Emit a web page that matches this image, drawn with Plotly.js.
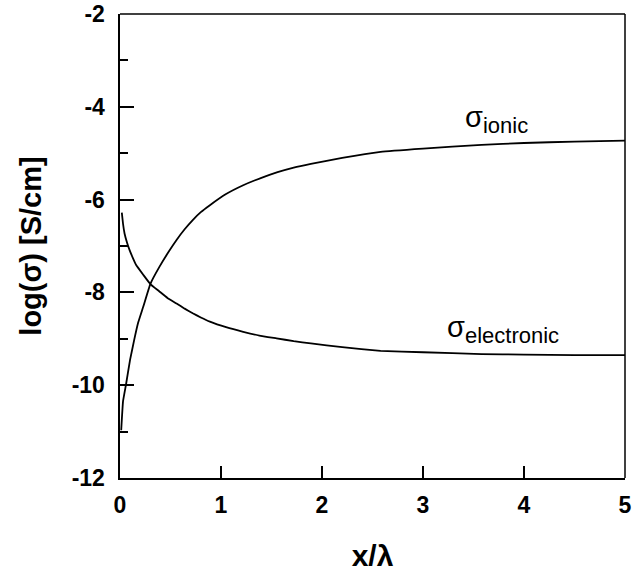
<!DOCTYPE html>
<html>
<head>
<meta charset="utf-8">
<script src="https://cdn.plot.ly/plotly-3.0.1.min.js"></script>
<style>html,body{margin:0;padding:0;background:#fff;}#chart{width:632px;height:575px;}</style>
</head>
<body>
<div id="chart"></div>
<script>
// x / lambda positions and log(sigma) values
const ionicX = [0.012, 0.03, 0.06, 0.10, 0.14, 0.18, 0.23, 0.30, 0.39, 0.48, 0.56, 0.64, 0.72, 0.80, 0.89, 1.05, 1.22, 1.40, 1.56, 1.72, 1.89, 2.20, 2.58, 3.00, 3.58, 4.00, 4.50, 5.00];
const ionicY = [-10.97, -10.35, -9.98, -9.45, -9.03, -8.65, -8.31, -7.82, -7.45, -7.13, -6.87, -6.64, -6.44, -6.27, -6.12, -5.88, -5.69, -5.53, -5.41, -5.31, -5.23, -5.10, -4.97, -4.90, -4.82, -4.78, -4.75, -4.73];
const elecX = [0.018, 0.03, 0.045, 0.07, 0.095, 0.13, 0.16, 0.23, 0.30, 0.39, 0.47, 0.56, 0.64, 0.72, 0.80, 0.89, 1.05, 1.22, 1.38, 1.55, 1.72, 1.89, 2.20, 2.58, 3.00, 3.58, 4.00, 4.50, 5.00];
const elecY = [-6.28, -6.52, -6.73, -6.93, -7.09, -7.27, -7.41, -7.62, -7.82, -7.98, -8.12, -8.24, -8.35, -8.45, -8.54, -8.63, -8.75, -8.85, -8.93, -8.99, -9.05, -9.10, -9.18, -9.26, -9.29, -9.33, -9.34, -9.35, -9.35];
const xTicks = [0, 1, 2, 3, 4, 5];
const yTicks = [-12, -10, -8, -6, -4, -2];
const labelIonic = "σ<sub><span style='font-size:22px'>ionic</span></sub>";
const labelElec = "σ<sub><span style='font-size:22px'>electronic</span></sub>";

const lineStyle = {color: '#000', width: 1.8, shape: 'spline', smoothing: 0.3};
const traces = [
  {x: ionicX, y: ionicY, mode: 'lines', line: lineStyle, hoverinfo: 'skip', showlegend: false},
  {x: elecX, y: elecY, xaxis: 'x2', mode: 'lines', line: lineStyle, hoverinfo: 'skip', showlegend: false}
];

const tickFont = {family: 'Liberation Sans, Arial, sans-serif', size: 23, color: '#000', weight: 'bold'};
const layout = {
  width: 632, height: 575,
  margin: {l: 120, r: 7, t: 14, b: 97},
  paper_bgcolor: '#fff', plot_bgcolor: '#fff',
  font: {family: 'Liberation Sans, Arial, sans-serif', color: '#000'},
  xaxis: {
    range: [0, 5], tickvals: xTicks, ticktext: xTicks.map(String),
    ticks: '', showline: true, linewidth: 2.2, linecolor: '#000', mirror: false,
    showgrid: false, zeroline: false, tickfont: tickFont, ticklabelstandoff: 5,
    title: {text: 'x/λ', font: {size: 30, weight: 'bold', color: '#000'}, standoff: 28}
  },
  xaxis2: {
    overlaying: 'x', matches: 'x', anchor: 'y', side: 'bottom',
    range: [0, 5], tickvals: xTicks, showticklabels: false,
    ticks: 'inside', ticklen: 12, tickwidth: 1.5, tickcolor: '#000',
    showline: false, showgrid: false, zeroline: false
  },
  yaxis: {
    range: [-12, -2], tickvals: yTicks, ticktext: yTicks.map(String),
    ticks: 'inside', ticklen: 14, tickwidth: 2, tickcolor: '#000',
    minor: {dtick: 1, tick0: -12, ticks: 'inside', ticklen: 8, tickwidth: 2, tickcolor: '#000', showgrid: false},
    showline: true, linewidth: 2.5, linecolor: '#000', mirror: false,
    showgrid: false, zeroline: false, tickfont: tickFont, ticklabelstandoff: 8,
    title: {text: 'log(σ) [S/cm]', font: {size: 29, weight: 'bold', color: '#000'}, standoff: 22}
  },
  shapes: [
    {type: 'line', xref: 'paper', yref: 'paper', x0: 0, x1: 1, y0: 1, y1: 1, line: {color: '#000', width: 1.5}},
    {type: 'line', xref: 'paper', yref: 'paper', x0: 1, x1: 1, y0: 0, y1: 1, line: {color: '#000', width: 1.5}}
  ],
  annotations: [
    {x: 3.40, y: -4.28, xref: 'x', yref: 'y', text: labelIonic, showarrow: false, xanchor: 'left', yanchor: 'middle',
     font: {size: 29, color: '#000'}},
    {x: 3.22, y: -8.80, xref: 'x', yref: 'y', text: labelElec, showarrow: false, xanchor: 'left', yanchor: 'middle',
     font: {size: 29, color: '#000'}}
  ]
};
Plotly.newPlot('chart', traces, layout, {staticPlot: true, displayModeBar: false});
</script>
</body>
</html>
